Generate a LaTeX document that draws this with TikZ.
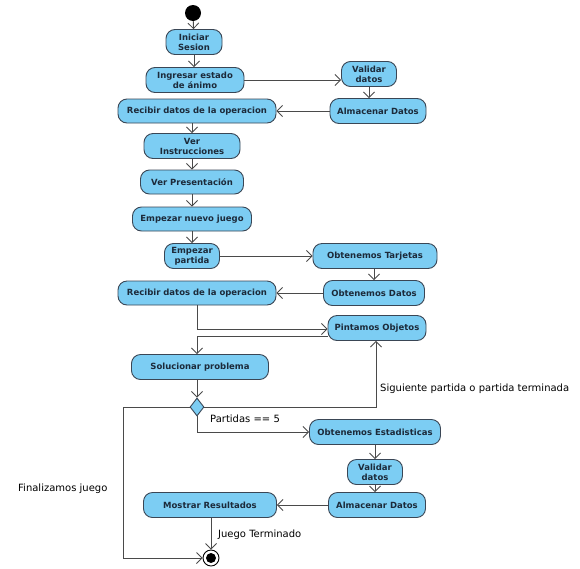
\documentclass[tikz,border=0pt]{standalone}
\usepackage{fontspec}
\setmainfont{DejaVu Sans}
\usetikzlibrary{arrows.meta,shapes.geometric}
\definecolor{actfill}{HTML}{7CCDF3}
\definecolor{actdraw}{HTML}{3A4655}
\definecolor{acttext}{HTML}{1C2A3A}
\definecolor{linecol}{HTML}{4A4A4A}
\begin{document}
\begin{tikzpicture}[x=1pt,y=-1pt,
  act/.style={draw=actdraw, fill=actfill, rounded corners=9pt, line width=0.9pt,
    font=\fontsize{8.5}{10}\selectfont\bfseries, text=acttext, align=center, inner sep=0pt},
  conn/.style={draw=linecol, line width=0.9pt, -{Straight Barb[length=5.5pt,width=11pt,line width=0.8pt]}},
  lbl/.style={font=\fontsize{10}{11}\selectfont, text=black, inner sep=0pt}]
\useasboundingbox (0,0) rectangle (580,568);
\fill[white] (0,0) rectangle (580,568);
% start / end
\node[circle, fill=black, minimum size=16pt, inner sep=0pt] (start) at (193,13) {};
\node[circle, draw=black, fill=white, line width=0.9pt, minimum size=16pt, inner sep=0pt] (fin) at (211,558) {};
\fill[black] (fin.center) circle (5pt);
% activities
\node[act, minimum width=56pt, minimum height=25pt] (ini) at (194,42) {Iniciar\\Sesion};
\node[act, minimum width=98pt, minimum height=25pt] (ing) at (195,80) {Ingresar estado\\de ánimo};
\node[act, minimum width=55pt, minimum height=25pt] (val1) at (369,74) {Validar\\datos};
\node[act, minimum width=96pt, minimum height=25pt] (alm1) at (378,111) {Almacenar Datos};
\node[act, minimum width=158pt, minimum height=24pt] (rec1) at (197,111) {Recibir datos de la operacion};
\node[act, minimum width=96pt, minimum height=25pt] (verI) at (192,146) {Ver\\Instrucciones};
\node[act, minimum width=103pt, minimum height=24pt] (verP) at (192,182) {Ver Presentación};
\node[act, minimum width=119pt, minimum height=24pt] (empN) at (192,219) {Empezar nuevo juego};
\node[act, minimum width=55pt, minimum height=25pt] (empP) at (192,256) {Empezar\\partida};
\node[act, minimum width=124pt, minimum height=25pt] (obtT) at (375,256) {Obtenemos Tarjetas};
\node[act, minimum width=101pt, minimum height=25pt] (obtD) at (374,293) {Obtenemos Datos};
\node[act, minimum width=158pt, minimum height=24pt] (rec2) at (197,293) {Recibir datos de la operacion};
\node[act, minimum width=98pt, minimum height=25pt] (pint) at (377,328) {Pintamos Objetos};
\node[act, minimum width=137pt, minimum height=25pt] (sol) at (200,367) {Solucionar problema};
\node[diamond, draw=actdraw, fill=actfill, line width=0.9pt, minimum width=14pt, minimum height=18pt, inner sep=0pt] (dec) at (197,407) {};
\node[act, minimum width=131pt, minimum height=25pt] (est) at (375,432) {Obtenemos Estadisticas};
\node[act, minimum width=55pt, minimum height=25pt] (val2) at (375,472) {Validar\\datos};
\node[act, minimum width=97pt, minimum height=25pt] (alm2) at (377,505) {Almacenar Datos};
\node[act, minimum width=133pt, minimum height=25pt] (mos) at (210,505) {Mostrar Resultados};
% connectors
\draw[conn] (start) -- (ini);
\draw[conn] (ini.south) -- (ini.south |- ing.north);
\draw[conn] (ing.east) -- (ing.east -| val1.west);
\draw[conn] (val1.south) -- (val1.south |- alm1.north);
\draw[conn] (alm1.west) -- (rec1.east);
\draw[conn] (verI.north |- rec1.south) -- (verI.north);
\draw[conn] (verI.south) -- (verP.north);
\draw[conn] (verP.south) -- (empN.north);
\draw[conn] (empN.south) -- (empP.north);
\draw[conn] (empP.east) -- (obtT.west);
\draw[conn] (obtD.north |- obtT.south) -- (obtD.north);
\draw[conn] (obtD.west) -- (rec2.east);
\coordinate (c1) at (197,329);
\draw[conn] (rec2.south) -- (c1) -- (c1 -| pint.west);
\coordinate (c2) at (197,336);
\draw[conn] (c2 -| pint.west) -- (c2) -- (c2 |- sol.north);
\draw[conn] (dec.north |- sol.south) -- (dec.north);
\coordinate (c3) at (376,407);
\draw[conn] (dec.east) -- (c3) -- (c3 |- pint.south);
\coordinate (c4) at (197,432);
\draw[conn] (dec.south) -- (c4) -- (est.west);
\coordinate (c5) at (123,407);
\coordinate (c6) at (123,558);
\draw[conn] (dec.west) -- (c5) -- (c6) -- (fin.west);
\draw[conn] (est.south -| val2.north) -- (val2.north);
\draw[conn] (val2.south) -- (val2.south |- alm2.north);
\draw[conn] (alm2.west) -- (mos.east);
\draw[conn] (fin.north |- mos.south) -- (fin.north);
% labels
\node[lbl, anchor=west] (l1) at (380,389) {Siguiente partida o partida terminada};
\node[lbl, anchor=west] (l2) at (210,419) {Partidas == 5};
\node[lbl, anchor=west] (l3) at (18,489) {Finalizamos juego};
\node[lbl, anchor=west] (l4) at (218,535) {Juego Terminado};
\end{tikzpicture}
\end{document}
